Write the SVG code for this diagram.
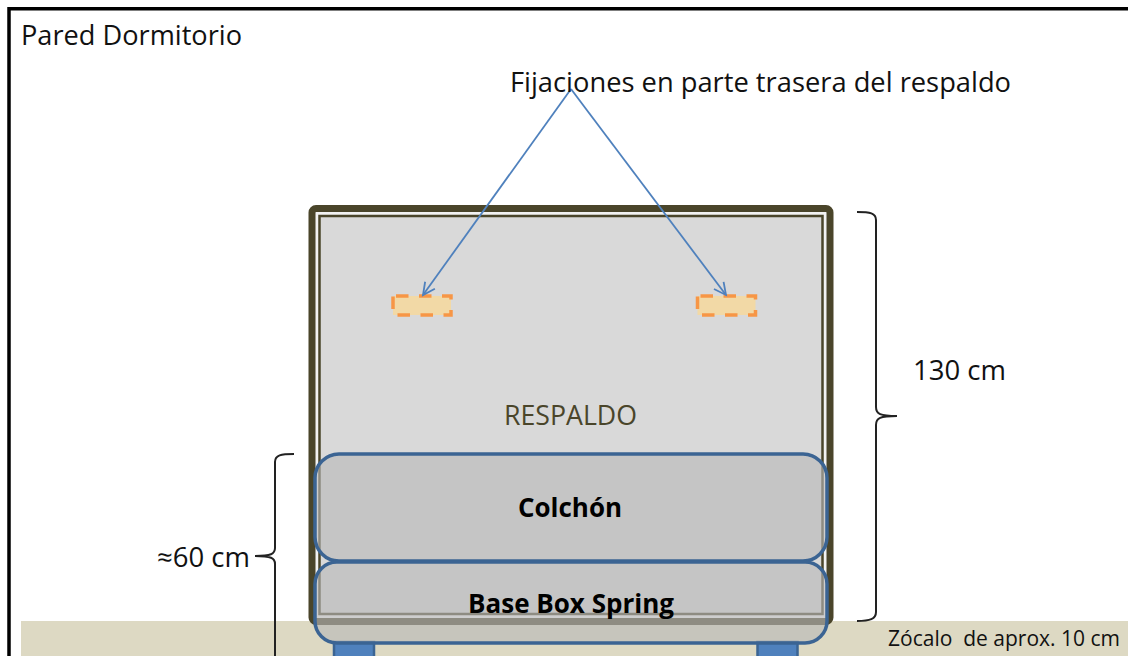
<svg xmlns="http://www.w3.org/2000/svg" width="1128" height="656" viewBox="0 0 1128 656">
<style>
text{font-family:"Open Sans","Noto Sans","Liberation Sans",sans-serif;fill:#111}
.n{font-size:27px}
.b{font-size:27px;font-weight:700;fill:#000}
.brace{fill:none;stroke:#222;stroke-width:2}
.fix{fill:#f2d9a6;stroke:#f79646;stroke-width:3.500;stroke-dasharray:12.500 10.500;stroke-dashoffset:-3}
.cush{stroke:#3b6493;stroke-width:3.500;fill:#b8b8b8;fill-opacity:.62}
.leg{fill:#4f81bd;stroke:#3b6493;stroke-width:2.500}
.link{fill:none;stroke:#4f81bd;stroke-width:1.800}
</style>
<defs><marker id="a" markerUnits="userSpaceOnUse" markerWidth="16" markerHeight="16" refX="13" refY="7" orient="auto"><path d="M1 1L13 7L1 13" fill="none" stroke="#4f81bd" stroke-width="1.800"/></marker></defs>
<rect width="1128" height="656" fill="#fff"/>
<g id="wall"><path d="M1130 8.750H9V656" fill="none" stroke="#000" stroke-width="3.500"/>
<text x="21" y="45" class="n" textLength="221" lengthAdjust="spacingAndGlyphs">Pared Dormitorio</text></g>
<g id="plinth"><rect x="21" y="621" width="1107" height="35" fill="#ddd9c3"/>
<text x="888" y="646" style="font-size:21px" textLength="232" lengthAdjust="spacingAndGlyphs">Zócalo&#160; de aprox. 10 cm</text></g>
<g id="legs"><rect class="leg" x="334" y="642" width="40" height="20"/><rect class="leg" x="757.500" y="642" width="40" height="20"/></g>
<g id="headboard"><rect x="312" y="208.500" width="518" height="413" rx="4" fill="#f2f2f2" stroke="#4a452a" stroke-width="7"/>
<rect x="319.500" y="216" width="503" height="398" fill="#d9d9d9" stroke="#4a452a" stroke-width="2.500"/>
<text x="504" y="425" class="n" style="fill:#4a452a" textLength="133" lengthAdjust="spacingAndGlyphs">RESPALDO</text></g>
<g id="fix1"><rect class="fix" x="393" y="296" width="58" height="19"/></g>
<g id="fix2"><rect class="fix" x="697.500" y="296" width="58" height="19"/></g>
<g id="mattress"><rect class="cush" x="315" y="454" width="512" height="107" rx="24"/>
<text x="518" y="517" class="b" textLength="104" lengthAdjust="spacingAndGlyphs">Colchón</text></g>
<g id="base"><rect class="cush" x="315" y="562" width="512" height="81" rx="22"/>
<text x="468" y="613" class="b" textLength="206" lengthAdjust="spacingAndGlyphs">Base Box Spring</text></g>
<g id="connectors">
<path class="link" d="M571 89L423 295" marker-end="url(#a)"/>
<path class="link" d="M571 89L726 295" marker-end="url(#a)"/>
<path class="brace" d="M857 212C870 212 876 213 876 220V407C876 414 880 416 897 416C880 416 876 418 876 425V612C876 619 870 621 857 621"/>
<path class="brace" d="M294 454C281 454 275 455 275 462V548C275 554 271 556 255 556C271 556 275 558 275 564V656"/>
</g>
<text x="510" y="92" class="n" textLength="501" lengthAdjust="spacingAndGlyphs">Fijaciones en parte trasera del respaldo</text>
<text x="913" y="380" class="n" textLength="93" lengthAdjust="spacingAndGlyphs">130 cm</text>
<text x="157" y="567" class="n" textLength="93" lengthAdjust="spacingAndGlyphs">≈60 cm</text>
</svg>
